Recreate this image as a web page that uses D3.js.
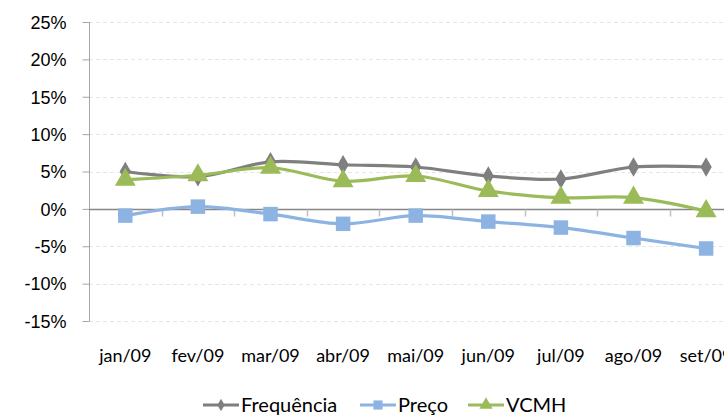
<!DOCTYPE html>
<html>
<head>
<meta charset="utf-8">
<script src="https://cdn.jsdelivr.net/npm/d3@7"></script>
<style>
  html, body { margin: 0; padding: 0; background: #fff; }
  svg { display: block; font-family: Lato, "Open Sans", sans-serif; }
</style>
</head>
<body>
<svg id="chart" width="724" height="417"></svg>
<script>
const months = ["jan/09", "fev/09", "mar/09", "abr/09", "mai/09", "jun/09", "jul/09", "ago/09", "set/09"];
const frequencia = [5.0, 4.3, 6.3, 5.9, 5.6, 4.4, 4.0, 5.6, 5.6];
const preco = [-0.9, 0.3, -0.7, -2.0, -0.9, -1.7, -2.5, -3.9, -5.3];
const vcmh = [3.9, 4.5, 5.5, 3.7, 4.4, 2.4, 1.5, 1.5, -0.3];
const yTicks = [25, 20, 15, 10, 5, 0, -5, -10, -15];

const series = [
  { name: "Frequência", values: frequencia, color: "#7f7f7f", marker: "diamond" },
  { name: "Preço", values: preco, color: "#8db3e2", marker: "square" },
  { name: "VCMH", values: vcmh, color: "#9bbb59", marker: "triangle" }
];

const svg = d3.select("#chart");
const left = 89, bandW = 72.6;
const x = d3.scaleBand().domain(months).range([left, left + bandW * months.length]);
const y = d3.scaleLinear().domain([-15, 25]).range([321, 22]);
const cx = (m) => x(m) + x.bandwidth() / 2;

// gridlines
svg.append("g").selectAll("line").data(yTicks.filter(d => d !== 0)).join("line")
  .attr("x1", left).attr("x2", 724)
  .attr("y1", d => Math.round(y(d)) + 0.5).attr("y2", d => Math.round(y(d)) + 0.5)
  .attr("stroke", "#e6e6e6").attr("stroke-dasharray", "4,3");

// y axis
const yAxis = svg.append("g").attr("transform", `translate(${left + 0.5},0)`)
  .call(d3.axisLeft(y).tickValues(yTicks).tickSize(7).tickPadding(16).tickFormat(d => d + "%"));
yAxis.select(".domain").attr("stroke", "#a6a6a6").attr("d", `M0,${y(25)}V${y(-15)}`);
yAxis.selectAll(".tick line").attr("stroke", "#a6a6a6");
yAxis.selectAll("text").attr("font-size", 18).attr("fill", "#000").attr("dy", "0.35em");

// zero axis with category ticks
const z = Math.round(y(0)) + 0.5;
svg.append("line").attr("x1", left).attr("x2", 724).attr("y1", z).attr("y2", z).attr("stroke", "#868686").attr("stroke-width", 1.3);
svg.append("g").selectAll("line").data(months.slice(1)).join("line")
  .attr("x1", d => Math.round(x(d)) + 0.5).attr("x2", d => Math.round(x(d)) + 0.5)
  .attr("y1", z).attr("y2", z + 7).attr("stroke", "#bfbfbf").attr("stroke-width", 1.5);

// x labels
svg.append("g").selectAll("text").data(months).join("text")
  .attr("x", d => cx(d)).attr("y", 362).attr("text-anchor", "middle")
  .attr("font-size", 18).attr("fill", "#000").text(d => d);

// lines
const line = d3.line().x((d, i) => cx(months[i])).y(d => y(d)).curve(d3.curveCatmullRom.alpha(0.5));
const sym = { diamond: d3.symbolDiamond, square: d3.symbolSquare, triangle: d3.symbolTriangle };
const size = { diamond: 110, square: 210, triangle: 190 };

series.forEach(s => {
  svg.append("path").datum(s.values).attr("d", line)
    .attr("fill", "none").attr("stroke", s.color).attr("stroke-width", 3.2);
  svg.append("g").selectAll("path").data(s.values).join("path")
    .attr("transform", (d, i) => `translate(${cx(months[i])},${y(d)})`)
    .attr("d", d3.symbol(sym[s.marker], size[s.marker]))
    .attr("fill", s.color);
});

// legend
const legend = svg.append("g").attr("transform", "translate(0,405)");
const lx = [203, 360, 468];
series.forEach((s, i) => {
  const g = legend.append("g").attr("transform", `translate(${lx[i]},0)`);
  g.append("line").attr("x1", 0).attr("x2", 36).attr("y1", 0).attr("y2", 0).attr("stroke", s.color).attr("stroke-width", 3);
  g.append("path").attr("transform", "translate(18,0)").attr("d", d3.symbol(sym[s.marker], size[s.marker] * 0.4)).attr("fill", s.color);
  g.append("text").attr("x", 38).attr("y", 0).attr("dy", "0.35em").attr("font-size", 20).attr("fill", "#000").text(s.name);
});
</script>
</body>
</html>
